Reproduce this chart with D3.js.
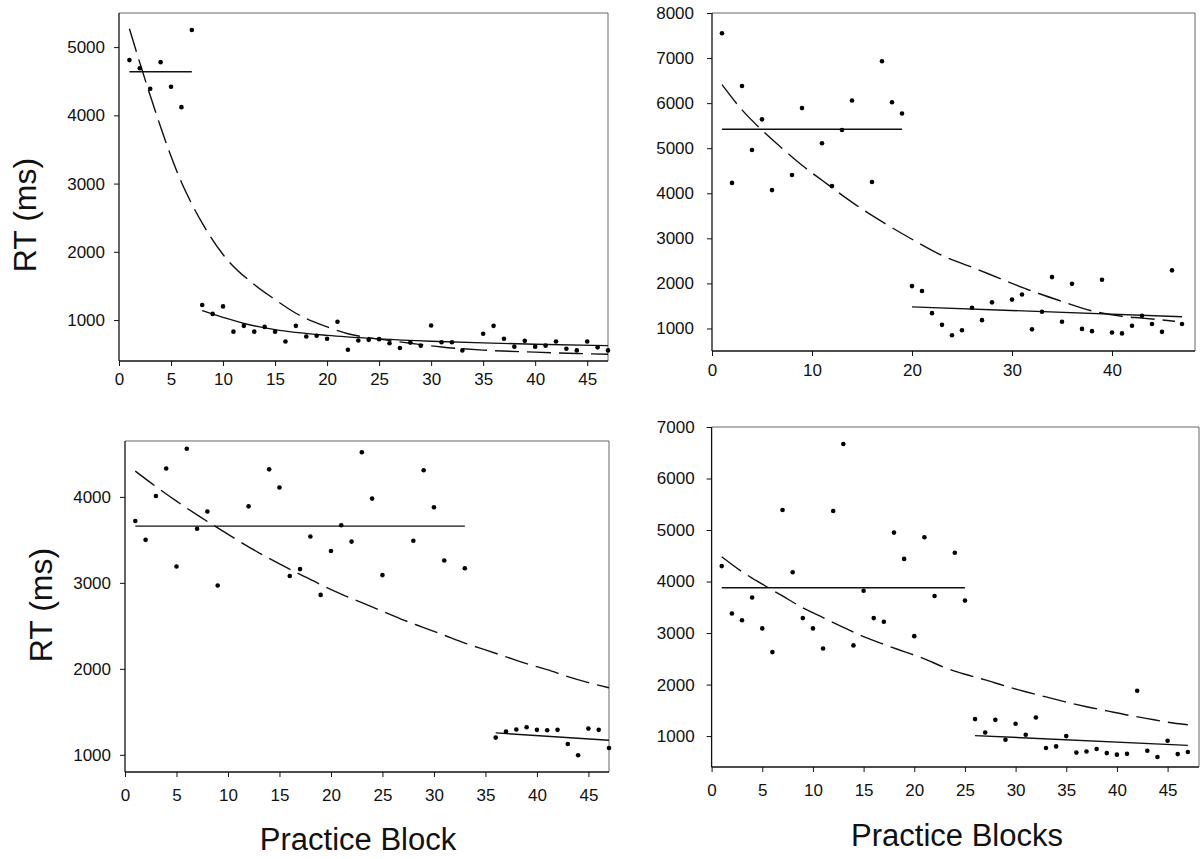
<!DOCTYPE html>
<html>
<head>
<meta charset="utf-8">
<script src="https://cdn.jsdelivr.net/npm/d3@7.9.0/dist/d3.min.js"></script>
<style>
  body { margin: 0; background: #fff; }
  svg { display: block; }
  text { font-family: "Liberation Sans", Arial, sans-serif; fill: #111; }
</style>
</head>
<body>
<svg id="chart" width="1200" height="859"></svg>
<script>
// values, [block, RT ms]
const p1Early = [[1,4810],[2,4690],[3,4390],[4,4780],[5,4420],[6,4120],[7,5250]];
const p1Late = [[8,1220],[9,1090],[10,1200],[11,830],[12,915],[13,830],[14,900],[15,830],[16,685],[17,915],[18,760],[19,770],[20,725],[21,975],[22,565],[23,700],[24,710],[25,720],[26,660],[27,590],[28,670],[29,625],[30,920],[31,675],[32,675],[33,555],[35,800],[36,915],[37,725],[38,610],[39,695],[40,610],[41,625],[42,685],[43,580],[44,555],[45,685],[46,600],[47,555]];
const p1Mean = [[1,4640],[7,4640]];
const p1Fit = [[8,1140],[10,1040],[12,950],[15,860],[20,775],[25,725],[30,690],[35,665],[40,645],[47,625]];
const p1Trend = [[1,5270],[2,4770],[3,4290],[4,3830],[5,3400],[6,3020],[7,2700],[8,2420],[10,1960],[13,1520],[15,1300],[17,1100],[20,900],[22,800],[25,720],[28,660],[31,605],[35,560],[40,530],[44,510],[47,500]];

const p2Early = [[1,7550],[2,4230],[3,6380],[4,4960],[5,5640],[6,4070],[8,4405],[9,5890],[11,5110],[12,4160],[13,5405],[14,6060],[16,4250],[17,6930],[18,6020],[19,5770]];
const p2Late = [[20,1940],[21,1830],[22,1340],[23,1080],[24,850],[25,960],[26,1460],[27,1185],[28,1580],[30,1640],[31,1755],[32,980],[33,1370],[34,2140],[35,1150],[36,1990],[37,990],[38,940],[39,2080],[40,910],[41,890],[42,1060],[43,1280],[44,1100],[45,925],[46,2290],[47,1100]];
const p2Mean = [[1,5420],[19,5420]];
const p2Fit = [[20,1480],[47,1260]];
const p2Trend = [[1,6410],[3,5850],[5,5400],[7,5000],[9,4620],[11,4290],[13,3960],[15,3650],[17,3370],[20,2980],[23,2620],[26,2360],[29,2090],[32,1830],[35,1600],[38,1390],[41,1270],[43,1230],[46.3,1160]];

const p3Early = [[1,3720],[2,3500],[3,4010],[4,4330],[5,3190],[6,4560],[7,3630],[8,3830],[9,2970],[12,3890],[14,4320],[15,4110],[16,3080],[17,3160],[18,3540],[19,2860],[20,3370],[21,3670],[22,3480],[23,4520],[24,3980],[25,3090],[28,3490],[29,4310],[30,3880],[31,3260],[33,3170]];
const p3Late = [[36,1200],[37,1270],[38,1295],[39,1320],[40,1290],[41,1285],[42,1290],[43,1125],[44,995],[45,1305],[46,1290],[47,1080]];
const p3Mean = [[1,3660],[33,3660]];
const p3Fit = [[36,1255],[47,1170]];
const p3Trend = [[1,4300],[3,4120],[5,3950],[7,3790],[9,3640],[11,3490],[13,3350],[15,3220],[17,3100],[19,2980],[21,2870],[23,2770],[25,2670],[27,2570],[29,2480],[31,2390],[33,2300],[35,2220],[37,2140],[39,2060],[41,1990],[43,1910],[45,1840],[47,1780]];

const p4Early = [[1,4300],[2,3380],[3,3250],[4,3690],[5,3090],[6,2630],[7,5390],[8,4180],[9,3290],[10,3090],[11,2700],[12,5370],[13,6670],[14,2760],[15,3820],[16,3290],[17,3220],[18,4950],[19,4440],[20,2940],[21,4860],[22,3720],[24,4560],[25,3630]];
const p4Late = [[26,1330],[27,1070],[28,1315],[29,930],[30,1240],[31,1025],[32,1360],[33,770],[34,800],[35,1000],[36,680],[37,700],[38,750],[39,670],[40,640],[41,655],[42,1880],[43,715],[44,595],[45,910],[46,650],[47,690]];
const p4Mean = [[1,3880],[25,3880]];
const p4Fit = [[26,1010],[47,820]];
const p4Trend = [[1,4480],[3,4190],[5,3950],[7,3720],[9,3490],[11,3300],[13,3110],[15,2930],[17,2780],[19,2640],[21,2500],[23,2330],[25,2200],[27,2090],[29,1970],[31,1860],[33,1760],[35,1660],[37,1570],[39,1490],[41,1410],[43,1340],[45,1270],[47,1220]];

// tick labels
const xTicks5 = [0,5,10,15,20,25,30,35,40,45];
const xTicks10 = [0,10,20,30,40];
const yTicks1 = [1000,2000,3000,4000,5000];
const yTicks2 = [1000,2000,3000,4000,5000,6000,7000,8000];
const yTicks3 = [1000,2000,3000,4000];
const yTicks4 = [1000,2000,3000,4000,5000,6000,7000];

const yLabel = 'RT (ms)';
const xLabelLeft = 'Practice Block';
const xLabelRight = 'Practice Blocks';

const svg = d3.select('#chart');
svg.append('rect').attr('width', 1200).attr('height', 859).attr('fill', '#fff');

function drawPanel(p) {
  const x = d3.scaleLinear().domain(p.xDomain).range([p.left, p.right]);
  const y = d3.scaleLinear().domain(p.yDomain).range([p.bottom, p.top]);
  const g = svg.append('g');

  // faint frame top/right
  g.append('path')
    .attr('d', `M${p.left},${p.top}H${p.right}V${p.bottom}`)
    .attr('fill', 'none')
    .attr('stroke', '#666')
    .attr('stroke-width', 1);

  const xAxis = g.append('g')
    .attr('transform', `translate(0,${p.bottom})`)
    .call(d3.axisBottom(x).tickValues(p.xTicks).tickFormat(d3.format('d'))
      .tickSize(5).tickSizeOuter(0).tickPadding(p.xPad));
  const yAxis = g.append('g')
    .attr('transform', `translate(${p.left},0)`)
    .call(d3.axisLeft(y).tickValues(p.yTicks).tickFormat(d3.format('d'))
      .tickSize(5).tickSizeOuter(0).tickPadding(p.yPad));
  [xAxis, yAxis].forEach(a => {
    a.select('.domain').remove();
    a.selectAll('.tick line').attr('stroke', '#111');
    a.selectAll('text').style('font-size', '17px').attr('fill', '#111');
  });
  g.append('line').attr('x1', p.left).attr('x2', p.left).attr('y1', p.top).attr('y2', p.bottom)
    .attr('stroke', '#111').attr('stroke-width', 1.3);
  g.append('line').attr('x1', p.left).attr('x2', p.right).attr('y1', p.bottom).attr('y2', p.bottom)
    .attr('stroke', '#111').attr('stroke-width', 1.3);

  const line = d3.line().x(d => x(d[0])).y(d => y(d[1]));
  const curve = d3.line().x(d => x(d[0])).y(d => y(d[1])).curve(d3.curveMonotoneX);

  g.append('path').attr('d', curve(p.trend))
    .attr('fill', 'none').attr('stroke', '#111').attr('stroke-width', 1.4)
    .attr('stroke-dasharray', '24,8');
  g.append('path').attr('d', line(p.mean))
    .attr('fill', 'none').attr('stroke', '#111').attr('stroke-width', 1.4);
  g.append('path').attr('d', curve(p.fit))
    .attr('fill', 'none').attr('stroke', '#111').attr('stroke-width', 1.4);

  g.selectAll('circle.pt')
    .data(p.early.concat(p.late))
    .join('circle')
    .attr('class', 'pt')
    .attr('cx', d => x(d[0]))
    .attr('cy', d => y(d[1]))
    .attr('r', 2.3)
    .attr('fill', '#000');
}

drawPanel({ left: 119, right: 608, top: 13, bottom: 361, xDomain: [0, 47], yDomain: [400, 5500],
  xTicks: xTicks5, yTicks: yTicks1, xPad: 7, yPad: 9,
  early: p1Early, late: p1Late, mean: p1Mean, fit: p1Fit, trend: p1Trend });
drawPanel({ left: 712, right: 1195, top: 13, bottom: 351, xDomain: [0, 48.3], yDomain: [500, 8000],
  xTicks: xTicks10, yTicks: yTicks2, xPad: 8, yPad: 13,
  early: p2Early, late: p2Late, mean: p2Mean, fit: p2Fit, trend: p2Trend });
drawPanel({ left: 125, right: 609, top: 441, bottom: 772, xDomain: [0, 47], yDomain: [800, 4650],
  xTicks: xTicks5, yTicks: yTicks3, xPad: 12, yPad: 9,
  early: p3Early, late: p3Late, mean: p3Mean, fit: p3Fit, trend: p3Trend });
drawPanel({ left: 711.6, right: 1199, top: 427, bottom: 767, xDomain: [0, 48.1], yDomain: [400, 7000],
  xTicks: xTicks5, yTicks: yTicks4, xPad: 12, yPad: 12,
  early: p4Early, late: p4Late, mean: p4Mean, fit: p4Fit, trend: p4Trend });

// axis titles
svg.append('text').attr('transform', 'translate(36,215) rotate(-90)')
  .attr('text-anchor', 'middle').style('font-size', '32px').text(yLabel);
svg.append('text').attr('transform', 'translate(52,605) rotate(-90)')
  .attr('text-anchor', 'middle').style('font-size', '32px').text(yLabel);
svg.append('text').attr('x', 358).attr('y', 850)
  .attr('text-anchor', 'middle').style('font-size', '31px').text(xLabelLeft);
svg.append('text').attr('x', 957).attr('y', 846)
  .attr('text-anchor', 'middle').style('font-size', '31px').text(xLabelRight);
</script>
</body>
</html>
